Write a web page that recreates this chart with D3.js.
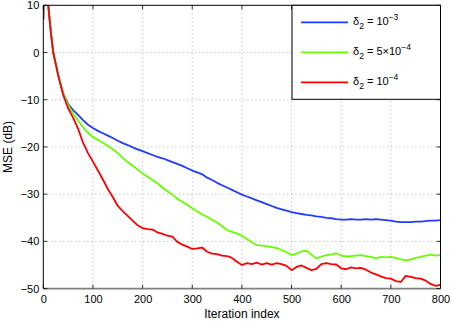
<!DOCTYPE html>
<html><head><meta charset="utf-8">
<script src="https://cdn.jsdelivr.net/npm/d3@7"></script>
<style>
html,body{margin:0;padding:0;background:#fff;}
svg{display:block;font-family:"Liberation Sans",Arial,sans-serif;}
</style></head>
<body>
<svg id="c" width="452" height="321"></svg>
<script>
const iters = [0,1,5,10,15,20,30,40,50,60,70,80,90,100,110,120,130,140,150,160,170,180,190,200,210,220,230,240,250,260,270,280,290,300,310,320,330,340,350,360,370,380,390,400,410,420,430,440,450,460,470,480,490,500,510,520,530,540,550,560,570,580,590,600,610,620,630,640,650,660,670,680,690,700,710,720,730,740,750,760,770,780,790,800];
const early = [7,14,13,10,4.5,0,-4.8];
const blue = early.concat([-8.6,-10.9,-12.2,-13.2,-14.3,-15.3,-16.0,-16.6,-17.1,-17.6,-18.1,-18.7,-19.2,-19.6,-20.1,-20.5,-20.9,-21.3,-21.7,-22.1,-22.4,-22.8,-23.2,-23.6,-24.0,-24.5,-25.0,-25.4,-25.8,-26.5,-27.0,-27.6,-28.1,-28.6,-29.1,-29.6,-30.1,-30.5,-30.9,-31.3,-31.7,-32.1,-32.5,-32.9,-33.2,-33.5,-33.8,-34.0,-34.2,-34.4,-34.5,-34.7,-34.8,-35.0,-35.1,-35.3,-35.4,-35.4,-35.3,-35.4,-35.4,-35.3,-35.4,-35.3,-35.4,-35.5,-35.6,-35.8,-35.9,-35.9,-35.9,-35.8,-35.8,-35.7,-35.6,-35.6,-35.5]);
const green = early.concat([-8.7,-11.1,-12.9,-14.4,-15.8,-17.0,-17.9,-18.5,-19.1,-19.8,-20.5,-21.3,-22.3,-23.2,-24.0,-24.8,-25.6,-26.3,-27.0,-27.7,-28.6,-29.4,-30.1,-31.0,-31.6,-32.3,-33.0,-33.6,-34.3,-34.8,-35.4,-36.0,-36.8,-37.6,-38.0,-38.3,-38.8,-39.5,-40.2,-40.8,-40.9,-41.0,-41.2,-41.4,-41.8,-42.3,-42.9,-42.6,-42.1,-42.0,-42.8,-43.6,-43.2,-42.9,-42.8,-42.5,-43.0,-43.2,-43.1,-43.0,-42.9,-43.1,-43.3,-43.6,-43.3,-43.4,-43.3,-43.5,-43.8,-44.0,-43.8,-43.5,-43.3,-43.0,-42.8,-43.0,-42.9]);
const red = early.concat([-9.0,-11.8,-13.8,-16.1,-19.1,-21.3,-23.1,-25.0,-26.9,-28.9,-30.6,-32.5,-33.6,-34.6,-35.6,-36.6,-37.2,-37.4,-37.5,-38.1,-38.4,-38.8,-39.0,-40.1,-40.7,-41.1,-41.6,-41.5,-41.3,-42.2,-42.6,-42.7,-43.0,-43.1,-43.5,-44.3,-45.0,-44.6,-44.8,-44.5,-44.9,-44.6,-44.9,-44.6,-44.8,-45.2,-46.1,-45.4,-45.1,-45.6,-46.1,-45.8,-44.8,-44.6,-44.8,-44.9,-45.7,-45.9,-45.5,-45.7,-45.6,-46.0,-46.6,-47.0,-47.4,-47.8,-47.9,-48.4,-48.6,-47.3,-47.5,-47.8,-47.9,-48.3,-49.0,-49.4,-49.2]);
const xTicks = [0,100,200,300,400,500,600,700,800];
const yTicks = [10,0,-10,-20,-30,-40,-50];
const seriesNames = ["blue","green","red"];
const seriesColors = ["#1f3cff","#66ff00","#ff0000"];

const svg = d3.select("#c");
const L=43.3, R=440.5, T=5.3, B=288.6;
const x = d3.scaleLinear().domain([0,800]).range([L,R]);
const y = d3.scaleLinear().domain([-50,10]).range([B,T]);

// grid
const grid = svg.append("g").attr("stroke","#999").attr("stroke-width",0.8).attr("stroke-dasharray","1,3");
xTicks.slice(1,-1).forEach(t=>grid.append("line").attr("x1",x(t)).attr("x2",x(t)).attr("y1",T).attr("y2",B));
yTicks.slice(1,-1).forEach(t=>grid.append("line").attr("x1",L).attr("x2",R).attr("y1",y(t)).attr("y2",y(t)));

// clip
svg.append("clipPath").attr("id","clip").append("rect").attr("x",L).attr("y",T).attr("width",R-L).attr("height",B-T);

const line = d3.line().x((d,i)=>x(iters[i])).y(d=>y(d));
[blue,green,red].forEach((s,k)=>{
  svg.append("path").attr("d",line(s)).attr("fill","none").attr("stroke",seriesColors[k])
     .attr("stroke-width",1.8).attr("stroke-linejoin","round").attr("clip-path","url(#clip)");
});

// axes box
svg.append("line").attr("x1",L).attr("x2",R).attr("y1",T).attr("y2",T).attr("stroke","#000");
svg.append("line").attr("x1",R).attr("x2",R).attr("y1",T).attr("y2",B).attr("stroke","#000");
svg.append("line").attr("x1",L).attr("x2",L).attr("y1",T).attr("y2",B).attr("stroke","#000");
svg.append("line").attr("x1",L).attr("x2",R).attr("y1",B).attr("y2",B).attr("stroke","#808080").attr("stroke-width",1.6);

// axes ticks/labels via d3 axes
const xa = d3.axisBottom(x).tickValues(xTicks).tickSize(0).tickPadding(7).tickFormat(d3.format("d"));
const gx = svg.append("g").attr("transform",`translate(0,${B})`).call(xa);
gx.select(".domain").remove();
gx.selectAll("text").attr("font-size","11px").attr("fill","#000").attr("font-family","Liberation Sans, Arial, sans-serif");
const ya = d3.axisLeft(y).tickValues(yTicks).tickSize(0).tickPadding(4).tickFormat(d=>d<0?"−"+Math.abs(d):String(d));
const gy = svg.append("g").attr("transform",`translate(${L},0)`).call(ya);
gy.select(".domain").remove();
gy.selectAll("text").attr("font-size","11px").attr("fill","#000").attr("font-family","Liberation Sans, Arial, sans-serif");

// inward tick marks
const tk = svg.append("g").attr("stroke","#000").attr("stroke-width",0.8);
xTicks.forEach(t=>{tk.append("line").attr("x1",x(t)).attr("x2",x(t)).attr("y1",B).attr("y2",B-4);
  tk.append("line").attr("x1",x(t)).attr("x2",x(t)).attr("y1",T).attr("y2",T+4);});
yTicks.forEach(t=>{tk.append("line").attr("x1",L).attr("x2",L+4).attr("y1",y(t)).attr("y2",y(t));
  tk.append("line").attr("x1",R).attr("x2",R-4).attr("y1",y(t)).attr("y2",y(t));});

// labels
svg.append("text").attr("x",(L+R)/2).attr("y",318).attr("text-anchor","middle").attr("font-size","12px").text("Iteration index");
svg.append("text").attr("transform",`translate(11.5,${(T+B)/2}) rotate(-90)`).attr("text-anchor","middle").attr("font-size","12px").text("MSE (dB)");

// legend
const lg = svg.append("g");
lg.append("rect").attr("x",292).attr("y",5.3).attr("width",148.5).attr("height",94).attr("fill","#fff").attr("stroke","#000").attr("stroke-width",1);
const ly = [22.3,52.3,82.3];
seriesColors.forEach((c,k)=>{
  lg.append("line").attr("x1",301).attr("x2",348).attr("y1",ly[k]).attr("y2",ly[k]).attr("stroke",c).attr("stroke-width",1.8);
  const t = lg.append("text").attr("x",353).attr("y",ly[k]+3).attr("font-size","11px");
  t.append("tspan").text("δ");
  t.append("tspan").attr("dy",4).attr("font-size","8.5px").text("2");
  if(k===1){
    t.append("tspan").attr("dy",-4).text(" = 5×10");
    t.append("tspan").attr("dy",-5).attr("font-size","8.5px").text("−4");
  } else {
    t.append("tspan").attr("dy",-4).text(" = 10");
    t.append("tspan").attr("dy",-5).attr("font-size","8.5px").text(k===0?"−3":"−4");
  }
});
</script>
</body></html>
